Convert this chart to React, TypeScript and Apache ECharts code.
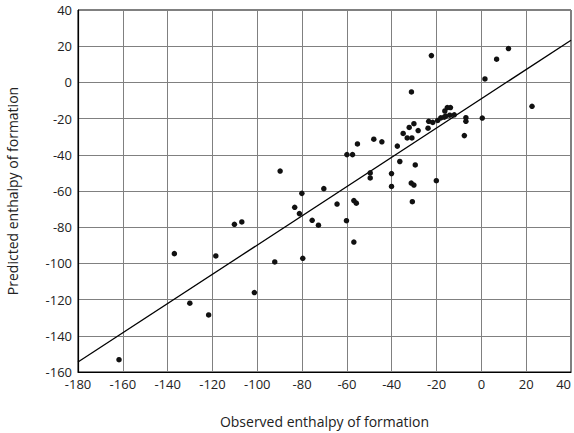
import React, { useEffect, useRef } from "react";
import * as echarts from "echarts";

const observed: number[] = [
  -161.7, -137, -130.1, -121.7, -118.5, -110.2, -106.9, -101.3, -92.2, -89.8,
  -83.3, -81.2, -80.1, -79.7, -75.5, -72.7, -70.3, -64.4, -60.2, -60,
  -57.5, -56.9, -56.9, -55.8, -55.3, -49.6, -49.6, -48, -44.4, -40.1,
  -40.1, -37.5, -36.4, -34.9, -32.2, -30.1, -33.1, -31, -31.2, -22.3,
  -29.5, -31.3, -30.1, -30.8, -28.2, -23.8, -23.5, -21.7, -20.1, -19.5,
  -18.1, -16.6, -16.3, -15.2, -13.8, -15.9, -14.1, -12.1, -6.9, -6.9,
  -7.6, 0.4, 1.6, 6.8, 12.1, 22.6,
];
const predicted: number[] = [
  -153.2, -94.6, -122, -128.5, -95.9, -78.4, -77.1, -116.1, -99.2, -49,
  -69, -72.5, -61.3, -97.2, -76.2, -78.9, -58.7, -67.2, -76.4, -39.9,
  -39.9, -88.2, -65.3, -66.7, -34, -50, -52.8, -31.4, -32.8, -50.4,
  -57.5, -35.2, -43.7, -28.2, -24.9, -22.8, -30.7, -30.7, -5.3, 14.8,
  -45.6, -55.6, -56.7, -65.9, -26.6, -25.3, -21.5, -22.1, -54.3, -21,
  -19.6, -19.2, -15.8, -13.9, -13.9, -18.6, -18.1, -17.9, -19.5, -21.5,
  -29.4, -19.7, 1.9, 12.8, 18.7, -13.2,
];
const fitX: number[] = [-180, 40];
const fitY: number[] = [-154.5, 23.3];

const xTicks = { min: -180, max: 40, interval: 20 };
const yTicks = { min: -160, max: 40, interval: 20 };

const FONT = "Open Sans";

export default function App() {
  const ref = useRef<HTMLDivElement>(null);
  useEffect(() => {
    if (!ref.current) return;
    const chart = echarts.init(ref.current, null, { renderer: "svg" });
    const points = observed.map((x, i) => [x, predicted[i]]);
    const fit = fitX.map((x, i) => [x, fitY[i]]);
    chart.setOption({
      animation: false,
      backgroundColor: "#ffffff",
      textStyle: { fontFamily: FONT },
      grid: {
        left: 78,
        right: 3,
        top: 10,
        bottom: 61,
        containLabel: false,
        outerBoundsMode: "none",
        show: true,
        borderColor: "#000",
        borderWidth: 1,
      },
      xAxis: {
        type: "value",
        min: xTicks.min,
        max: xTicks.max,
        interval: xTicks.interval,
        name: "Observed enthalpy of formation",
        nameLocation: "middle",
        nameGap: 42,
        nameTextStyle: { fontFamily: FONT, fontSize: 14, color: "#222" },
        axisLine: { show: true, onZero: false, lineStyle: { color: "#000", width: 1.2 } },
        axisTick: { show: false },
        axisLabel: {
          fontFamily: FONT,
          fontSize: 13,
          color: "#222",
          margin: 5,
          alignMaxLabel: "right",
        },
        splitLine: { show: true, lineStyle: { color: "#808080", width: 1 } },
      },
      yAxis: {
        type: "value",
        min: yTicks.min,
        max: yTicks.max,
        interval: yTicks.interval,
        name: "Predicted enthalpy of formation",
        nameLocation: "middle",
        nameGap: 59,
        nameTextStyle: { fontFamily: FONT, fontSize: 14, color: "#222" },
        axisLine: { show: true, onZero: false, lineStyle: { color: "#000", width: 1.2 } },
        axisTick: { show: false },
        axisLabel: { fontFamily: FONT, fontSize: 13, color: "#222", margin: 6 },
        splitLine: { show: true, lineStyle: { color: "#808080", width: 1 } },
      },
      series: [
        {
          type: "line",
          data: fit,
          showSymbol: false,
          symbol: "none",
          lineStyle: { color: "#000", width: 1.3 },
          z: 3,
        },
        {
          type: "scatter",
          data: points,
          symbol: "circle",
          symbolSize: 5.5,
          itemStyle: { color: "#111", opacity: 1 },
          z: 4,
        },
      ],
    });
    return () => chart.dispose();
  }, []);
  return <div ref={ref} style={{ width: 574, height: 433, position: "absolute", left: 0, top: 0 }} />;
}
